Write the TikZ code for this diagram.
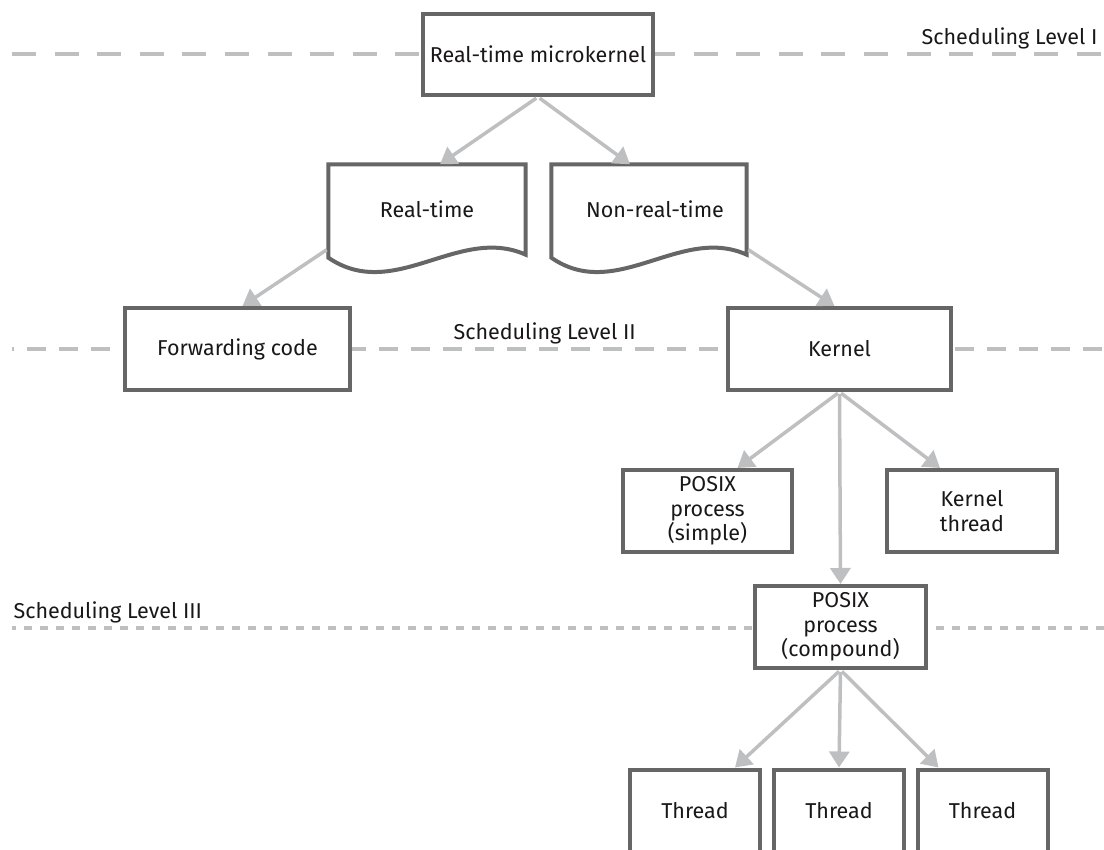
\documentclass[tikz,border=0pt]{standalone}
\usepackage{fontspec}
\setmainfont{Fira Sans}
\usetikzlibrary{arrows.meta, positioning}

\definecolor{boxgrey}{HTML}{666666}
\definecolor{linkgrey}{HTML}{BEBFC1}
\definecolor{inkgrey}{HTML}{1A1718}

\begin{document}
\begin{tikzpicture}[
    x=1pt, y=-1pt,
    font=\fontsize{21.5}{24.5}\selectfont,
    text=inkgrey,
    box/.style={draw=boxgrey, line width=4pt, fill=white, align=center, inner sep=0pt},
    doc/.style={align=center, inner sep=0pt, minimum width=197pt, minimum height=90pt},
    outline/.style={draw=boxgrey, line width=4pt, fill=white},
    link/.style={draw=linkgrey, line width=3.5pt, shorten <=2pt, -{Triangle[width=20pt, length=16pt]}},
    level one/.style={draw=linkgrey, line width=4.5pt, dash pattern=on 24pt off 18.6pt},
    level two/.style={draw=linkgrey, line width=4.5pt, dash pattern=on 19pt off 13pt, dash phase=17pt},
    level three/.style={draw=linkgrey, line width=4pt, dash pattern=on 8pt off 8pt, dash phase=4pt},
]
    \useasboundingbox (0,0) rectangle (1104,850);
    \clip (0,0) rectangle (1104,850);

    % scheduling levels
    \draw[level one]   (12,54)  -- (1104,54);
    \draw[level two]   (12,349) -- (1104,349);
    \draw[level three] (12,628) -- (1104,628);

    \node[anchor=base east] (lvl1) at (1101,45)  {Scheduling Level I};
    \node[anchor=base west] (lvl2) at (450,340)  {Scheduling Level II};
    \node[anchor=base west] (lvl3) at (10,618)   {Scheduling Level III};

    % level I
    \node[box, minimum width=230pt, minimum height=81pt] (mk) at (538,54.5) {Real-time microkernel};

    % real-time / non-real-time
    \node[doc] (rt)  at (427,209.5) {};
    \node[doc, minimum width=195pt] (nrt) at (649,209.5) {};
    \draw[outline] ([yshift=-3pt]rt.south west) -- (rt.north west) -- (rt.north east) -- (rt.south east)
        .. controls ([xshift=-67pt, yshift=30pt]rt.south east) and ([xshift=66pt, yshift=-48pt]rt.south west)
        .. ([yshift=-3pt]rt.south west) -- cycle;
    \draw[outline] ([yshift=-3pt]nrt.south west) -- (nrt.north west) -- (nrt.north east) -- (nrt.south east)
        .. controls ([xshift=-66pt, yshift=30pt]nrt.south east) and ([xshift=65pt, yshift=-48pt]nrt.south west)
        .. ([yshift=-3pt]nrt.south west) -- cycle;
    \node at (rt.center)  {Real-time};
    \node at ([xshift=6pt]nrt.center) {Non-real-time};

    % level II
    \node[box, minimum width=225pt, minimum height=82pt] (fc) at (237.5,349) {Forwarding code};
    \node[box, minimum width=223pt, minimum height=82pt] (kn) at (839.5,349) {Kernel};

    \node[box, minimum width=169pt, minimum height=82pt] (ps) at (707.5,511) {POSIX\\process\\(simple)};
    \node[box, minimum width=170pt, minimum height=82pt] (kt) at (972,511)   {Kernel\\thread};

    % level III
    \node[box, minimum width=171pt, minimum height=82pt] (pc) at (840.5,627) {POSIX\\process\\(compound)};

    \node[box, minimum width=130pt, minimum height=82pt] (t2) at (839,810.5) {Thread};
    \node[box, minimum width=130pt, minimum height=82pt, on grid, left=144pt of t2]    (t1) {Thread};
    \node[box, minimum width=130pt, minimum height=82pt, on grid, right=143.5pt of t2] (t3) {Thread};

    % links
    \draw[link] (mk.south) -- ([xshift=13pt]rt.north);
    \draw[link] (mk.south) -- ([xshift=-19pt]nrt.north);
    \draw[link] ([yshift=6pt]rt.south west) -- ([xshift=5pt]fc.north);
    \draw[link] ([yshift=6pt]nrt.south east) -- ([xshift=-5pt]kn.north);
    \draw[link] (kn.south) -- ([xshift=30pt]ps.north);
    \draw[link] (kn.south) -- (pc.north);
    \draw[link] (kn.south) -- ([xshift=-32pt]kt.north);
    \draw[link] (pc.south) -- ([xshift=40pt]t1.north);
    \draw[link] (pc.south) -- (t2.north);
    \draw[link] (pc.south) -- ([xshift=-44pt]t3.north);
\end{tikzpicture}
\end{document}
